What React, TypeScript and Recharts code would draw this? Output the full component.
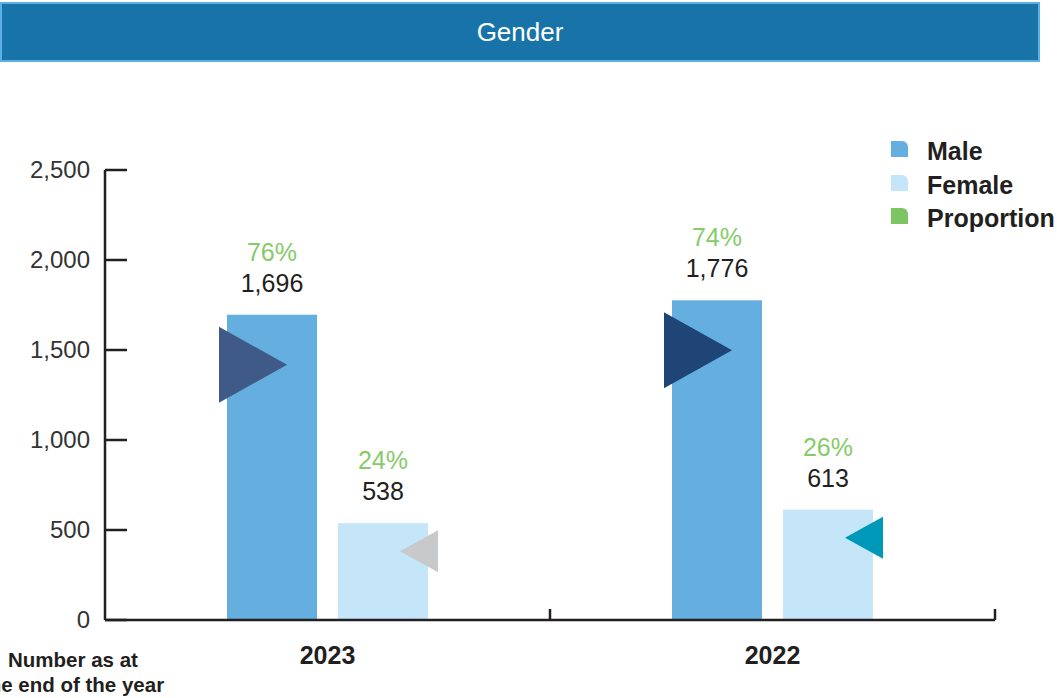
import React from "react";
import { BarChart, Bar, XAxis, YAxis, Legend, LabelList } from "recharts";

const years = ["2023", "2022"];
const maleCount = [1696, 1776];
const femaleCount = [538, 613];
const malePct = [76, 74];
const femalePct = [24, 26];
const yTicks = [0, 500, 1000, 1500, 2000, 2500];
const legendLabels = ["Male", "Female", "Proportion"];

const MALE_COLOR = "#64aee0";
const FEMALE_COLOR = "#c4e6f8";
const PCT_COLOR = "#86cb69";
const INK = "#231f20";
const legendColors = [MALE_COLOR, FEMALE_COLOR, "#7dc462"];
// decorative arrow colours, one per year
const maleArrow: Record<string, string> = { "2023": "#405a88", "2022": "#1f4577" };
const femaleArrow: Record<string, string> = { "2023": "#c8c9cb", "2022": "#0098b8" };

const W = 1057;
const H = 698;
const MARGIN = { top: 170, right: 62, left: 0, bottom: 0 };
const Y_AXIS_W = 105;
const X_AXIS_H = 78;
const AXIS_X = MARGIN.left + Y_AXIS_W;
const PLOT_BOTTOM = H - MARGIN.bottom - X_AXIS_H;
const BAND = (W - MARGIN.right - AXIS_X) / years.length;

const data = years.map((year, i) => ({
  year,
  male: maleCount[i],
  female: femaleCount[i],
}));

const fmt = (v: number) => Number(v).toLocaleString("en-US");

function YTick({ y, payload }: any) {
  return (
    <g>
      <line x1={AXIS_X} x2={AXIS_X + 22} y1={y} y2={y} stroke={INK} strokeWidth={2.5} />
      <text x={AXIS_X - 15} y={y + 7.5} textAnchor="end" fontSize={24} fill="#333">
        {fmt(payload.value)}
      </text>
    </g>
  );
}

function XTick({ x, payload }: any) {
  const edge = x + BAND / 2;
  return (
    <g>
      <line x1={edge} x2={edge} y1={PLOT_BOTTOM} y2={PLOT_BOTTOM - 11} stroke={INK} strokeWidth={2.5} />
      <text x={x} y={PLOT_BOTTOM + 44} textAnchor="middle" fontSize={25} fontWeight="bold" fill={INK}>
        {payload.value}
      </text>
    </g>
  );
}

function MaleShape(props: any) {
  const { x, y, width, height, payload } = props;
  const cy = y + 50;
  const left = x - 8;
  return (
    <g>
      <rect x={x} y={y} width={width} height={height} fill={MALE_COLOR} />
      <polygon
        points={`${left},${cy - 38} ${left + 68},${cy} ${left},${cy + 38}`}
        fill={maleArrow[payload.year]}
      />
    </g>
  );
}

function FemaleShape(props: any) {
  const { x, y, width, height, payload } = props;
  const cy = y + 28;
  const right = x + width + 10;
  return (
    <g>
      <rect x={x} y={y} width={width} height={height} fill={FEMALE_COLOR} />
      <polygon
        points={`${right},${cy - 21} ${right - 38},${cy} ${right},${cy + 21}`}
        fill={femaleArrow[payload.year]}
      />
    </g>
  );
}

const makeLabel = (pcts: number[]) => (p: any) => {
  const { x, y, width, index, value } = p;
  const cx = x + width / 2;
  return (
    <g>
      <text x={cx} y={y - 54} textAnchor="middle" fontSize={25} fill={PCT_COLOR}>
        {pcts[index]}%
      </text>
      <text x={cx} y={y - 23} textAnchor="middle" fontSize={25} fill={INK}>
        {fmt(value)}
      </text>
    </g>
  );
};

function LegendBox() {
  return (
    <div>
      {legendLabels.map((label, i) => (
        <div key={label} style={{ display: "flex", alignItems: "flex-start", height: 33.5, lineHeight: "33.5px" }}>
          <span
            style={{
              display: "inline-block",
              width: 17,
              height: 16,
              marginTop: 6,
              marginRight: 19,
              background: legendColors[i],
              borderTopRightRadius: 6,
            }}
          />
          <span style={{ fontSize: 25, fontWeight: "bold", color: INK }}>{label}</span>
        </div>
      ))}
    </div>
  );
}

export default function App() {
  return (
    <div
      style={{
        position: "absolute",
        left: 0,
        top: 0,
        width: W,
        height: H,
        background: "#fff",
        overflow: "hidden",
        fontFamily: "'Liberation Sans', Arial, sans-serif",
      }}
    >
      <div
        style={{
          position: "absolute",
          left: 0,
          top: 2,
          width: 1040,
          height: 60,
          boxSizing: "border-box",
          background: "#1874a8",
          border: "2px solid #5db0e3",
          color: "#fff",
          fontSize: 26,
          display: "flex",
          alignItems: "center",
          justifyContent: "center",
        }}
      >
        Gender
      </div>

      <BarChart width={W} height={H} data={data} margin={MARGIN} barSize={90} barGap={21}>
        <XAxis
          dataKey="year"
          height={X_AXIS_H}
          interval={0}
          axisLine={{ stroke: INK, strokeWidth: 2.5 }}
          tickLine={false}
          tick={<XTick />}
        />
        <YAxis
          width={Y_AXIS_W}
          domain={[0, 2500]}
          ticks={yTicks}
          interval={0}
          axisLine={{ stroke: INK, strokeWidth: 2.5 }}
          tickLine={false}
          tick={<YTick />}
        />
        <Legend
          layout="vertical"
          align="center"
          verticalAlign="middle"
          wrapperStyle={{ top: 135, left: 891, width: 166 }}
          content={() => <LegendBox />}
        />
        <Bar dataKey="male" fill={MALE_COLOR} shape={<MaleShape />} isAnimationActive={false}>
          <LabelList dataKey="male" content={makeLabel(malePct)} />
        </Bar>
        <Bar dataKey="female" fill={FEMALE_COLOR} shape={<FemaleShape />} isAnimationActive={false}>
          <LabelList dataKey="female" content={makeLabel(femalePct)} />
        </Bar>
      </BarChart>

      <div
        style={{
          position: "absolute",
          left: -27,
          top: 647,
          width: 200,
          textAlign: "center",
          fontSize: 20.5,
          fontWeight: "bold",
          lineHeight: "25px",
          color: INK,
        }}
      >
        Number as at
        <br />
        the end of the year
      </div>
    </div>
  );
}
